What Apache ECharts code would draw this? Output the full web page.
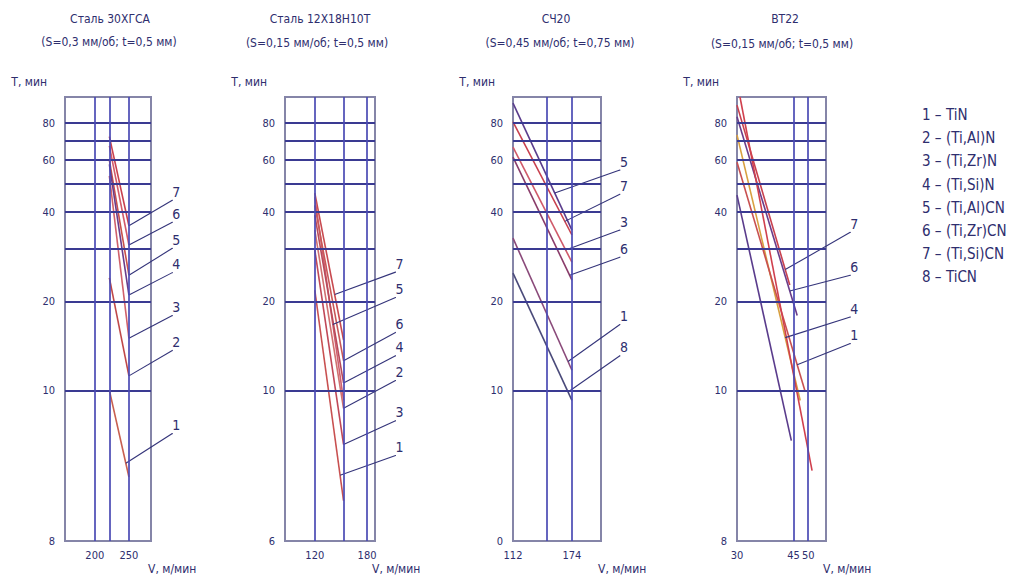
<!DOCTYPE html>
<html><head><meta charset="utf-8">
<script src="https://cdn.jsdelivr.net/npm/echarts@6/dist/echarts.min.js"></script>
<style>html,body{margin:0;padding:0;background:#fff}#c{width:1036px;height:585px}</style>
</head><body><div id="c"></div>
<script>
// ---------------- data ----------------
const panelTitles = ['Сталь 30ХГСА', 'Сталь 12Х18Н10Т', 'СЧ20', 'ВТ22'];
const panelSubtitles = ['(S=0,3 мм/об; t=0,5 мм)', '(S=0,15 мм/об; t=0,5 мм)', '(S=0,45 мм/об; t=0,75 мм)', '(S=0,15 мм/об; t=0,5 мм)'];
const yAxisName = 'T, мин';
const xAxisName = 'V, м/мин';

const yMin = 3.1, yMax = 98;
const yGridValues = [10, 20, 30, 40, 50, 60, 70, 80];
const yLabeledValues = [10, 20, 40, 60, 80];
const yBottomLabels = ['8', '6', '0', '8'];

const xMin = [164.6, 95.2, 112, 30];
const xMax = [288.8, 191.5, 216.2, 56.8];
const xGridValues = [[200, 220, 250], [120, 150, 180], [144, 174], [45, 50]];
const xLabeledValues = [[200, 250], [120, 180], [112, 174], [30, 45, 50]];

const coatingNumbers = ['1', '2', '3', '4', '5', '6', '7', '8'];
const coatingNames = ['TiN', '(Ti,Al)N', '(Ti,Zr)N', '(Ti,Si)N', '(Ti,Al)CN', '(Ti,Zr)CN', '(Ti,Si)CN', 'TiCN'];

// Panel 1 — Сталь 30ХГСА
const p1Labels = ['7', '6', '5', '4', '3', '2', '1'];
const p1V1 = [220, 220, 220, 220, 220, 220, 220];
const p1T1 = [72, 67, 60, 58, 53, 24, 10];
const p1V2 = [250, 250, 250, 250, 250, 250, 250];
const p1T2 = [36, 31, 24.5, 21, 15, 11.2, 5.1];
const p1LeaderV = [250, 250, 250, 250, 250, 250, 245];
const p1LeaderEndV = 332;
const p1LeaderEndT = [43.9, 37.0, 30.2, 25.0, 17.9, 13.65, 7.15];

// Panel 2 — Сталь 12Х18Н10Т
const p2Labels = ['7', '5', '6', '4', '2', '3', '1'];
const p2V1 = [120, 120, 120, 120, 120, 120, 120];
const p2T1 = [46.4, 45.0, 42.2, 39.1, 34.8, 29.8, 21.8];
const p2V2 = [150, 150, 150, 150, 150, 150, 150];
const p2T2 = [14.8, 9.25, 12.6, 10.6, 8.7, 6.57, 4.24];
const p2LeaderV = [140, 138, 150, 150, 150, 150, 146];
const p2LeaderEndV = 224.6;
const p2LeaderEndT = [25.1, 20.6, 15.7, 13.1, 10.8, 7.9, 6.03];

// Panel 3 — СЧ20
const p3Labels = ['5', '7', '3', '6', '1', '8'];
const p3V1 = [112, 112, 112, 112, 112, 112];
const p3T1 = [93.5, 80.7, 66.4, 61.4, 32.7, 24.9];
const p3V2 = [174, 174, 174, 174, 174, 174];
const p3T2 = [34.8, 33.5, 27.1, 23.6, 11.7, 9.25];
const p3LeaderV = [153, 165, 166, 171, 169, 169];
const p3LeaderEndV = 249;
const p3LeaderEndT = [55.5, 46.0, 34.8, 28.2, 16.7, 13.1];

// Panel 4 — ВТ22 (last two curves carry no number in the figure)
const p4Labels = ['7', '6', '4', '1', '', ''];
const p4V1 = [30, 30, 30, 30, 30.65, 30];
const p4T1 = [92, 84, 73, 59, 98, 45.7];
const p4V2 = [43.8, 46.2, 47.2, 48.8, 51.4, 44.3];
const p4T2 = [22.7, 17.9, 9.25, 10, 5.36, 6.77];
const p4LeaderV = [42.4, 43.8, 42.4, 46.2];
const p4LeaderEndV = 67.6;
const p4LeaderEndT = [34.2, 24.5, 17.7, 14.4];

// ---------------- styles / layout ----------------
const FONT = '"Liberation Sans Narrow","DejaVu Sans Condensed","Arial Narrow","DejaVu Sans",sans-serif';
const TEXT = '#2e2e6e';
const CLEAR = 'rgba(0,0,0,0)';
const gridBoxes = [{left: 65, width: 86}, {left: 285, width: 90}, {left: 513, width: 88}, {left: 737, width: 89}];
const GRID_TOP = 97, GRID_H = 444, LEADER_ROOM = 110;
const titlePos = [[110, 19, 109, 42], [320, 19, 317, 43], [556, 19, 560, 43], [785, 19, 782, 44]];
const lineColors = [
  ['#c8404e', '#d25a6a', '#c8504a', '#6a3c8a', '#d0606a', '#c04848', '#c86050'],
  ['#c84a50', '#d06070', '#c85858', '#b84a5a', '#d07070', '#c04858', '#c85050'],
  ['#5a3c8c', '#c8404e', '#d05a6a', '#8a3c6a', '#8a4a7a', '#4a4a7a'],
  ['#c8404e', '#6a3c8a', '#d8a040', '#c85050', '#d0404e', '#5a3c8c']
];

const panels = [
  {labels: p1Labels, V1: p1V1, T1: p1T1, V2: p1V2, T2: p1T2, LV: p1LeaderV, LEV: p1LeaderEndV, LET: p1LeaderEndT},
  {labels: p2Labels, V1: p2V1, T1: p2T1, V2: p2V2, T2: p2T2, LV: p2LeaderV, LEV: p2LeaderEndV, LET: p2LeaderEndT},
  {labels: p3Labels, V1: p3V1, T1: p3T1, V2: p3V2, T2: p3T2, LV: p3LeaderV, LEV: p3LeaderEndV, LET: p3LeaderEndT},
  {labels: p4Labels, V1: p4V1, T1: p4T1, V2: p4V2, T2: p4T2, LV: p4LeaderV, LEV: p4LeaderEndV, LET: p4LeaderEndT}
];

function interpT(v, v1, t1, v2, t2) {
  const f = Math.log(v / v1) / Math.log(v2 / v1);
  return Math.exp(Math.log(t1) + f * (Math.log(t2) - Math.log(t1)));
}

const grids = [], xAxes = [], yAxes = [], series = [], graphics = [];
const hiddenAxis = {axisLine: {show: false}, axisTick: {show: false}, axisLabel: {show: false}, splitLine: {show: false}};

// main panels (0..3)
panels.forEach((p, i) => {
  grids.push({
    left: gridBoxes[i].left, width: gridBoxes[i].width, top: GRID_TOP, height: GRID_H,
    show: true, borderColor: '#8585a8', borderWidth: 2, backgroundColor: 'transparent',
    containLabel: false, outerBoundsMode: 'none'
  });
  xAxes.push(Object.assign({
    type: 'log', gridIndex: i, min: xMin[i], max: xMax[i],
    name: xAxisName, nameLocation: 'end', nameGap: -3,
    nameTextStyle: {fontFamily: FONT, fontSize: 12, color: TEXT, align: 'left', verticalAlign: 'top', padding: [22, 0, 0, 0]}
  }, hiddenAxis));
  yAxes.push(Object.assign({
    type: 'log', gridIndex: i, min: yMin, max: yMax,
    name: yAxisName, nameLocation: 'end', nameGap: 15,
    nameTextStyle: {fontFamily: FONT, fontSize: 12, color: TEXT, align: 'right', verticalAlign: 'middle', padding: [0, 18, 0, 0]}
  }, hiddenAxis));
});
// overlay coordinate systems (4..7): same scales, wider area so the callout leaders can leave the frame
panels.forEach((p, i) => {
  const w = gridBoxes[i].width;
  const extMax = xMax[i] * Math.pow(xMax[i] / xMin[i], LEADER_ROOM / w);
  grids.push({left: gridBoxes[i].left, width: w + LEADER_ROOM, top: GRID_TOP, height: GRID_H,
    show: false, containLabel: false, outerBoundsMode: 'none'});
  xAxes.push(Object.assign({type: 'log', gridIndex: 4 + i, min: xMin[i], max: extMax}, hiddenAxis));
  yAxes.push(Object.assign({type: 'log', gridIndex: 4 + i, min: yMin, max: yMax}, hiddenAxis));
});

panels.forEach((p, i) => {
  const labStyle = {fontFamily: FONT, fontSize: 11, color: TEXT};
  const ml = [];
  yGridValues.forEach(v => {
    const lab = yLabeledValues.indexOf(v) >= 0;
    ml.push({yAxis: v, lineStyle: {color: '#3a3a92', width: 1.8, type: 'solid'},
      label: {show: lab, position: 'start', distance: 10, formatter: String(v), ...labStyle}});
  });
  ml.push({yAxis: yMin, lineStyle: {color: CLEAR, width: 1},
    label: {show: true, position: 'start', distance: 10, formatter: yBottomLabels[i], ...labStyle}});
  const xs = Array.from(new Set(xGridValues[i].concat(xLabeledValues[i])));
  xs.forEach(v => {
    const isGrid = xGridValues[i].indexOf(v) >= 0;
    const lab = xLabeledValues[i].indexOf(v) >= 0;
    ml.push({xAxis: v, lineStyle: isGrid ? {color: '#4a4ab4', width: 1.7, type: 'solid'} : {color: CLEAR, width: 1},
      label: {show: lab, position: 'start', distance: 9, formatter: String(v), ...labStyle}});
  });
  series.push({
    type: 'line', xAxisIndex: i, yAxisIndex: i, data: [], silent: true,
    markLine: {symbol: ['none', 'none'], silent: true, animation: false, data: ml}
  });

  p.labels.forEach((lbl, k) => {
    series.push({
      type: 'line', xAxisIndex: i, yAxisIndex: i, symbol: 'none', silent: true, z: 3,
      lineStyle: {color: lineColors[i][k], width: 1.6},
      data: [[p.V1[k], p.T1[k]], [p.V2[k], p.T2[k]]]
    });
    if (lbl !== '' && p.LV[k] != null) {
      const lt = interpT(p.LV[k], p.V1[k], p.T1[k], p.V2[k], p.T2[k]);
      series.push({
        type: 'line', xAxisIndex: 4 + i, yAxisIndex: 4 + i, symbol: 'none', silent: true, z: 4,
        lineStyle: {color: '#34347a', width: 1.1},
        data: [[p.LV[k], lt], {
          value: [p.LEV, p.LET[k]], symbol: 'circle', symbolSize: 1,
          itemStyle: {color: '#34347a'},
          label: {show: true, position: 'top', distance: 1, offset: [4, 0], formatter: lbl,
            fontFamily: FONT, fontSize: 14, color: TEXT}
        }]
      });
    }
  });

  graphics.push({type: 'text', x: titlePos[i][0], y: titlePos[i][1], silent: true,
    style: {text: panelTitles[i], fill: TEXT, font: '12px ' + FONT, textAlign: 'center', textVerticalAlign: 'middle', align: 'center', verticalAlign: 'middle'}});
  graphics.push({type: 'text', x: titlePos[i][2], y: titlePos[i][3], silent: true,
    style: {text: panelSubtitles[i], fill: TEXT, font: '12px ' + FONT, textAlign: 'center', textVerticalAlign: 'middle', align: 'center', verticalAlign: 'middle'}});
});

coatingNumbers.forEach((n, k) => {
  graphics.push({type: 'text', x: 922, y: 115 + k * 23.2, silent: true,
    style: {text: n + ' – ' + coatingNames[k], fill: TEXT, font: '15px ' + FONT, textAlign: 'left', textVerticalAlign: 'middle', align: 'left', verticalAlign: 'middle'}});
});

const chart = echarts.init(document.getElementById('c'), null, {renderer: 'svg'});
chart.setOption({
  backgroundColor: '#ffffff',
  animation: false,
  grid: grids, xAxis: xAxes, yAxis: yAxes, series: series, graphic: graphics
});
</script>
</body></html>
